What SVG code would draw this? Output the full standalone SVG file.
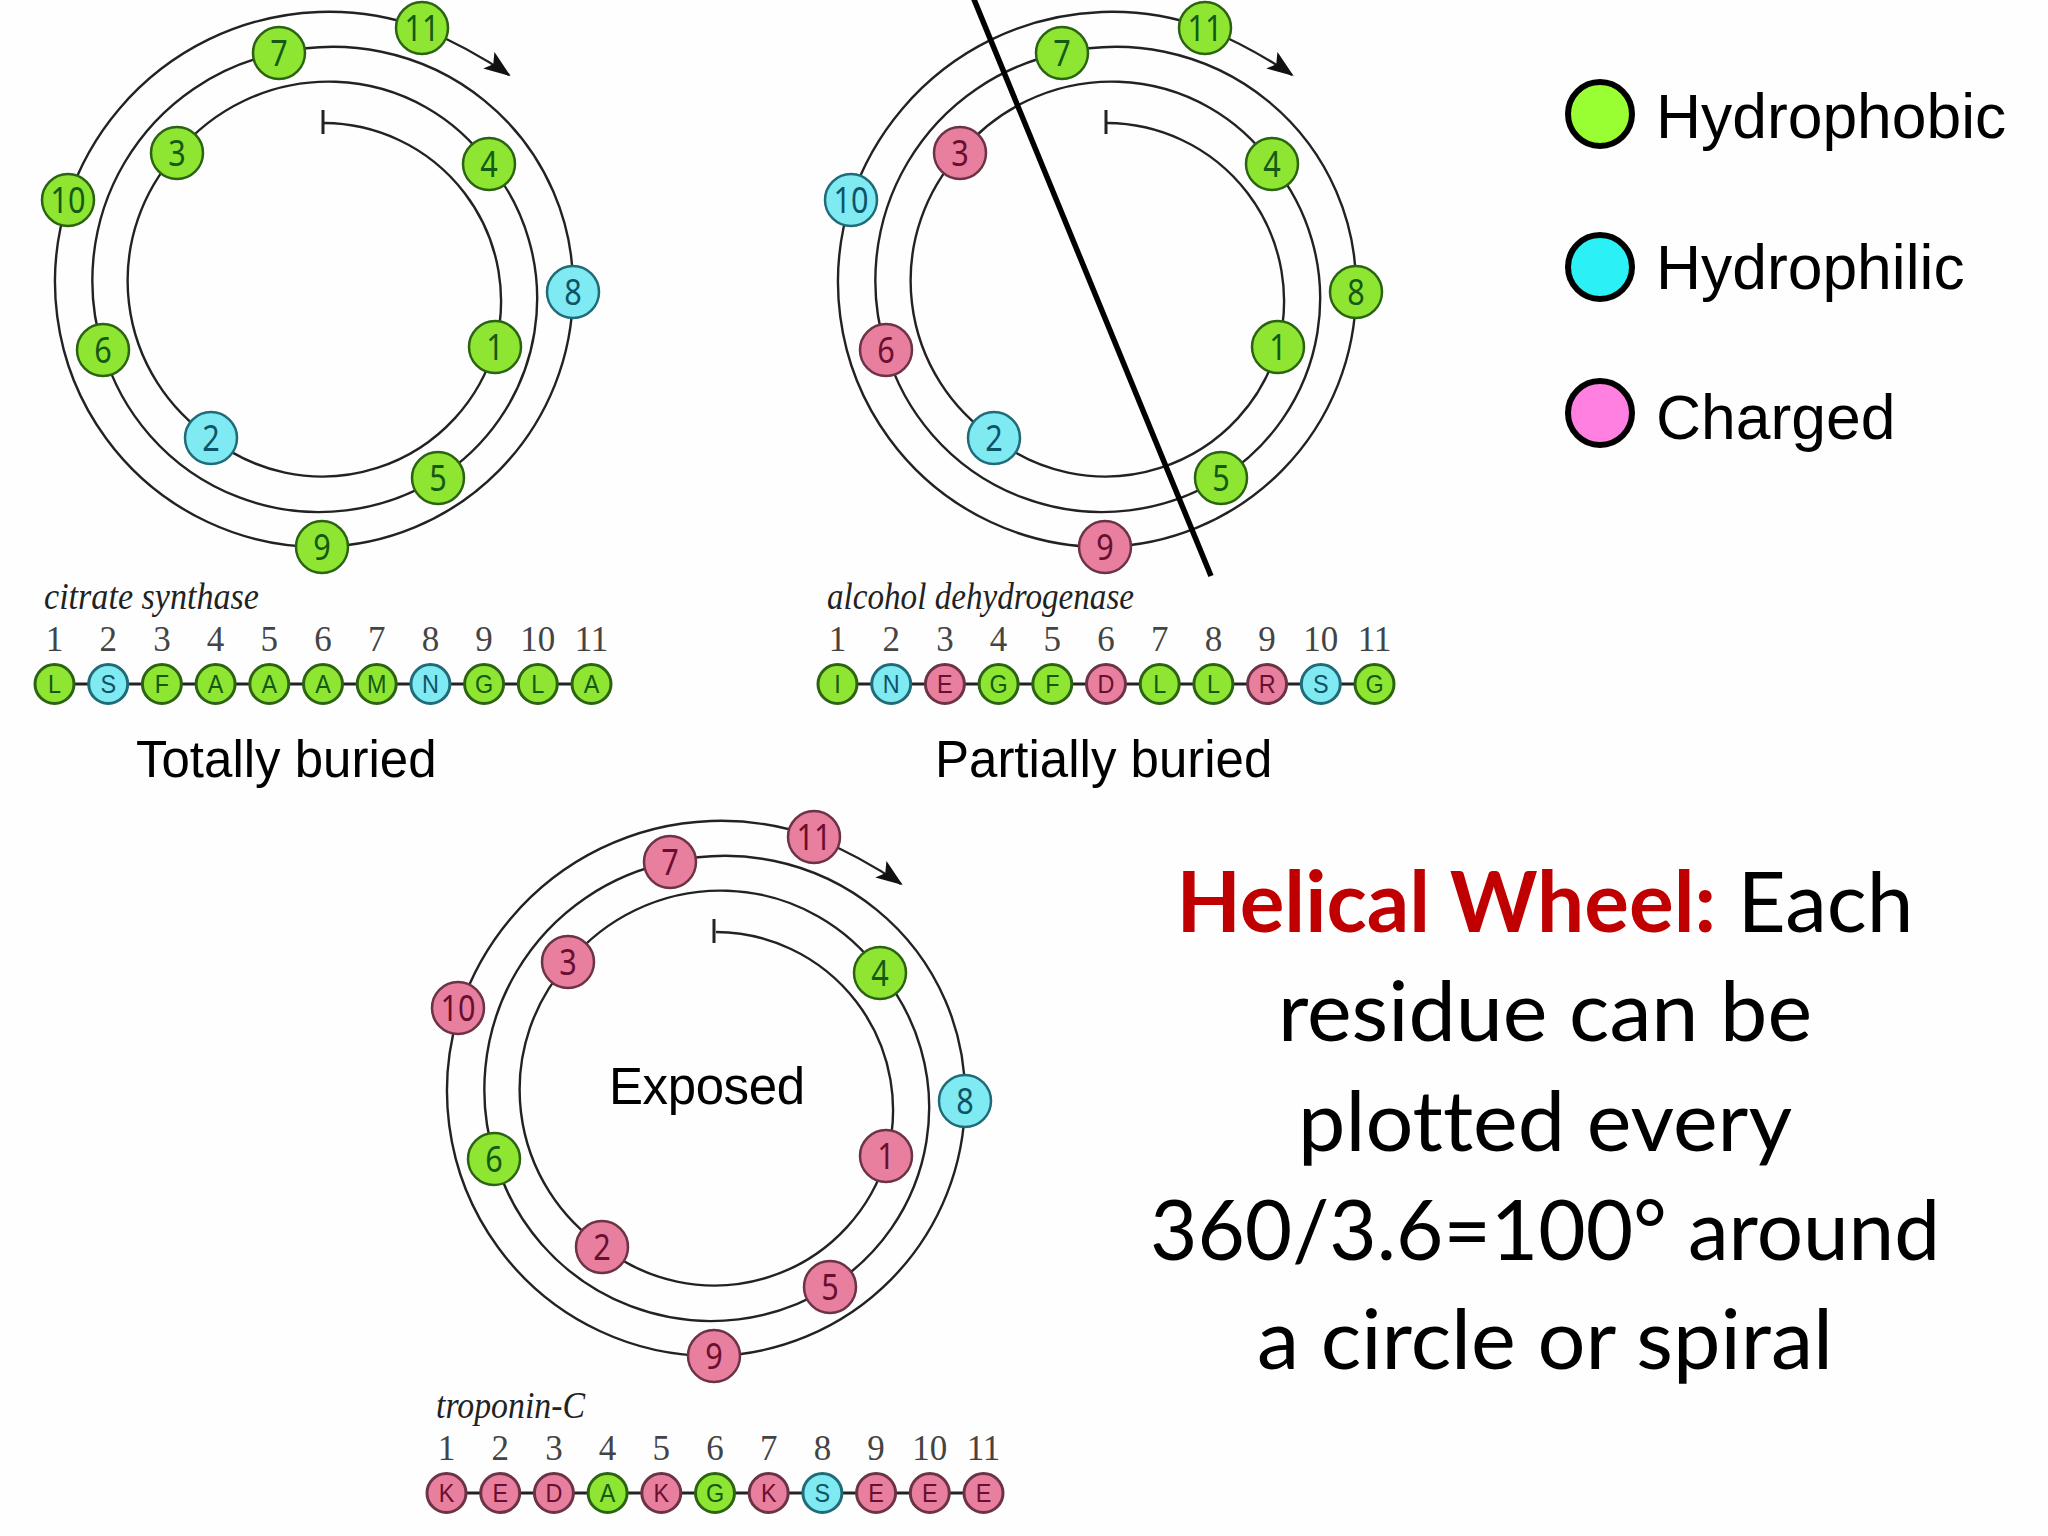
<svg xmlns="http://www.w3.org/2000/svg" width="2048" height="1536" viewBox="0 0 2048 1536">
<style>
text{font-family:"Liberation Sans",Arial,sans-serif;fill:#000}
.n circle{stroke-width:2.5}
.n text{text-anchor:middle;font-family:"Noto Sans","Liberation Sans",sans-serif;font-size:36px;transform:scaleX(.85)}
.s circle{stroke-width:3}
.s text{text-anchor:middle;font-size:26px;transform:scaleX(.9)}
.g circle{fill:#8fe632;stroke:#2b6312}.g text{fill:#145a14}
.c circle{fill:#80eaf2;stroke:#1f6b78}.c text{fill:#0d5468}
.p circle{fill:#e87f9e;stroke:#6b3345}.p text{fill:#6a0f30}
.num{text-anchor:middle;font-family:"Liberation Serif",serif;font-size:35px;fill:#444}
.name{font-family:"Liberation Serif",serif;font-style:italic;font-size:37px;fill:#222}
.big{font-size:51px}
.leg{font-size:62.4px}
.leg-c{stroke:#000;stroke-width:6}
.hw{font-family:Lato,"Open Sans",sans-serif;font-size:84px;text-anchor:middle;font-variant-ligatures:none}
.sp{fill:none;stroke:#222;stroke-width:2.4}
.bar{stroke:#222;stroke-width:3}
</style>
<defs>
<marker id="ah" markerWidth="30" markerHeight="24" refX="25" refY="11" orient="auto" markerUnits="userSpaceOnUse"><path d="M0,0 L27,11 L0,20 L6,11 Z" fill="#111"/></marker>
<path id="spiral" class="sp" marker-end="url(#ah)" d="M323,122 A178,178 0 0 1 494,346 A180,180 0 0 1 210,437 A190,190 0 0 1 176,152 A197,197 0 0 1 488,163 A212,212 0 0 1 437,477 A225,225 0 0 1 102,349 A232,232 0 0 1 278,52 A240,240 0 0 1 572,291 A257,257 0 0 1 321,546 A265,265 0 0 1 67,199 A275,275 0 0 1 421,27 A500,500 0 0 1 508,74"/>
<g id="row-connector"><line class="bar" x1="55.5" y1="684" x2="592.5" y2="684"/></g>
<g id="tick"><line class="bar" x1="323" y1="110" x2="323" y2="134"/></g>
</defs>
<rect width="2048" height="1536" fill="#fefefe"/>
<g id="connectors">
<use href="#spiral" x="1" y="1"/><use href="#tick" x="0" y="0"/><use href="#row-connector" x="-1"/>
<use href="#spiral" x="784" y="1"/><use href="#tick" x="783"/><use href="#row-connector" x="782"/>
<use href="#spiral" x="393" y="810"/><use href="#tick" x="391" y="809"/><use href="#row-connector" x="391" y="809"/>
</g>
<g id="wheel1" transform="translate(1,1)">
<g id="w1-1" class="n g" transform="translate(494,346)"><circle r="26"/><text y="13">1</text></g>
<g id="w1-2" class="n c" transform="translate(210,437)"><circle r="26"/><text y="13">2</text></g>
<g id="w1-3" class="n g" transform="translate(176,152)"><circle r="26"/><text y="13">3</text></g>
<g id="w1-4" class="n g" transform="translate(488,163)"><circle r="26"/><text y="13">4</text></g>
<g id="w1-5" class="n g" transform="translate(437,477)"><circle r="26"/><text y="13">5</text></g>
<g id="w1-6" class="n g" transform="translate(102,349)"><circle r="26"/><text y="13">6</text></g>
<g id="w1-7" class="n g" transform="translate(278,52)"><circle r="26"/><text y="13">7</text></g>
<g id="w1-8" class="n c" transform="translate(572,291)"><circle r="26"/><text y="13">8</text></g>
<g id="w1-9" class="n g" transform="translate(321,546)"><circle r="26"/><text y="13">9</text></g>
<g id="w1-10" class="n g" transform="translate(67,199)"><circle r="26"/><text y="13">10</text></g>
<g id="w1-11" class="n g" transform="translate(421,27)"><circle r="26"/><text y="13">11</text></g>
</g>
<g id="seq1" transform="translate(-1,0)">
<text class="name" x="45" y="609" textLength="215" lengthAdjust="spacingAndGlyphs">citrate synthase</text>
<text class="num" x="55.5" y="651">1</text><text class="num" x="109.2" y="651">2</text><text class="num" x="162.9" y="651">3</text><text class="num" x="216.6" y="651">4</text><text class="num" x="270.3" y="651">5</text><text class="num" x="324" y="651">6</text><text class="num" x="377.7" y="651">7</text><text class="num" x="431.4" y="651">8</text><text class="num" x="485.1" y="651">9</text><text class="num" x="538.8" y="651">10</text><text class="num" x="592.5" y="651">11</text>
<g id="s1-1" class="s g" transform="translate(55.5,684)"><circle r="19.5"/><text y="9">L</text></g>
<g id="s1-2" class="s c" transform="translate(109.2,684)"><circle r="19.5"/><text y="9">S</text></g>
<g id="s1-3" class="s g" transform="translate(162.9,684)"><circle r="19.5"/><text y="9">F</text></g>
<g id="s1-4" class="s g" transform="translate(216.6,684)"><circle r="19.5"/><text y="9">A</text></g>
<g id="s1-5" class="s g" transform="translate(270.3,684)"><circle r="19.5"/><text y="9">A</text></g>
<g id="s1-6" class="s g" transform="translate(324,684)"><circle r="19.5"/><text y="9">A</text></g>
<g id="s1-7" class="s g" transform="translate(377.7,684)"><circle r="19.5"/><text y="9">M</text></g>
<g id="s1-8" class="s c" transform="translate(431.4,684)"><circle r="19.5"/><text y="9">N</text></g>
<g id="s1-9" class="s g" transform="translate(485.1,684)"><circle r="19.5"/><text y="9">G</text></g>
<g id="s1-10" class="s g" transform="translate(538.8,684)"><circle r="19.5"/><text y="9">L</text></g>
<g id="s1-11" class="s g" transform="translate(592.5,684)"><circle r="19.5"/><text y="9">A</text></g>
<text class="big" x="137" y="777">Totally buried</text>
</g>
<g id="wheel2" transform="translate(784,1)">
<g id="w2-1" class="n g" transform="translate(494,346)"><circle r="26"/><text y="13">1</text></g>
<g id="w2-2" class="n c" transform="translate(210,437)"><circle r="26"/><text y="13">2</text></g>
<g id="w2-3" class="n p" transform="translate(176,152)"><circle r="26"/><text y="13">3</text></g>
<g id="w2-4" class="n g" transform="translate(488,163)"><circle r="26"/><text y="13">4</text></g>
<g id="w2-5" class="n g" transform="translate(437,477)"><circle r="26"/><text y="13">5</text></g>
<g id="w2-6" class="n p" transform="translate(102,349)"><circle r="26"/><text y="13">6</text></g>
<g id="w2-7" class="n g" transform="translate(278,52)"><circle r="26"/><text y="13">7</text></g>
<g id="w2-8" class="n g" transform="translate(572,291)"><circle r="26"/><text y="13">8</text></g>
<g id="w2-9" class="n p" transform="translate(321,546)"><circle r="26"/><text y="13">9</text></g>
<g id="w2-10" class="n c" transform="translate(67,199)"><circle r="26"/><text y="13">10</text></g>
<g id="w2-11" class="n g" transform="translate(421,27)"><circle r="26"/><text y="13">11</text></g>
</g>
<g id="seq2" transform="translate(782,0)">
<text class="name" x="45" y="609" textLength="307" lengthAdjust="spacingAndGlyphs">alcohol dehydrogenase</text>
<text class="num" x="55.5" y="651">1</text><text class="num" x="109.2" y="651">2</text><text class="num" x="162.9" y="651">3</text><text class="num" x="216.6" y="651">4</text><text class="num" x="270.3" y="651">5</text><text class="num" x="324" y="651">6</text><text class="num" x="377.7" y="651">7</text><text class="num" x="431.4" y="651">8</text><text class="num" x="485.1" y="651">9</text><text class="num" x="538.8" y="651">10</text><text class="num" x="592.5" y="651">11</text>
<g id="s2-1" class="s g" transform="translate(55.5,684)"><circle r="19.5"/><text y="9">I</text></g>
<g id="s2-2" class="s c" transform="translate(109.2,684)"><circle r="19.5"/><text y="9">N</text></g>
<g id="s2-3" class="s p" transform="translate(162.9,684)"><circle r="19.5"/><text y="9">E</text></g>
<g id="s2-4" class="s g" transform="translate(216.6,684)"><circle r="19.5"/><text y="9">G</text></g>
<g id="s2-5" class="s g" transform="translate(270.3,684)"><circle r="19.5"/><text y="9">F</text></g>
<g id="s2-6" class="s p" transform="translate(324,684)"><circle r="19.5"/><text y="9">D</text></g>
<g id="s2-7" class="s g" transform="translate(377.7,684)"><circle r="19.5"/><text y="9">L</text></g>
<g id="s2-8" class="s g" transform="translate(431.4,684)"><circle r="19.5"/><text y="9">L</text></g>
<g id="s2-9" class="s p" transform="translate(485.1,684)"><circle r="19.5"/><text y="9">R</text></g>
<g id="s2-10" class="s c" transform="translate(538.8,684)"><circle r="19.5"/><text y="9">S</text></g>
<g id="s2-11" class="s g" transform="translate(592.5,684)"><circle r="19.5"/><text y="9">G</text></g>
<text class="big" x="153" y="777">Partially buried</text>
</g>
<line id="boundary" x1="973" y1="-3" x2="1211" y2="576" stroke="#000" stroke-width="5.5"/>
<g id="wheel3" transform="translate(392,810)">
<g id="w3-1" class="n p" transform="translate(494,346)"><circle r="26"/><text y="13">1</text></g>
<g id="w3-2" class="n p" transform="translate(210,437)"><circle r="26"/><text y="13">2</text></g>
<g id="w3-3" class="n p" transform="translate(176,152)"><circle r="26"/><text y="13">3</text></g>
<g id="w3-4" class="n g" transform="translate(488,163)"><circle r="26"/><text y="13">4</text></g>
<g id="w3-5" class="n p" transform="translate(438,477)"><circle r="26"/><text y="13">5</text></g>
<g id="w3-6" class="n g" transform="translate(102,349)"><circle r="26"/><text y="13">6</text></g>
<g id="w3-7" class="n p" transform="translate(278,52)"><circle r="26"/><text y="13">7</text></g>
<g id="w3-8" class="n c" transform="translate(573,291)"><circle r="26"/><text y="13">8</text></g>
<g id="w3-9" class="n p" transform="translate(322,546)"><circle r="26"/><text y="13">9</text></g>
<g id="w3-10" class="n p" transform="translate(66,198)"><circle r="26"/><text y="13">10</text></g>
<g id="w3-11" class="n p" transform="translate(422,27)"><circle r="26"/><text y="13">11</text></g>
<text class="big" x="217" y="294" textLength="196">Exposed</text>
</g>
<g id="seq3" transform="translate(391,809)">
<text class="name" x="45" y="609" textLength="149" lengthAdjust="spacingAndGlyphs">troponin-C</text>
<text class="num" x="55.5" y="651">1</text><text class="num" x="109.2" y="651">2</text><text class="num" x="162.9" y="651">3</text><text class="num" x="216.6" y="651">4</text><text class="num" x="270.3" y="651">5</text><text class="num" x="324" y="651">6</text><text class="num" x="377.7" y="651">7</text><text class="num" x="431.4" y="651">8</text><text class="num" x="485.1" y="651">9</text><text class="num" x="538.8" y="651">10</text><text class="num" x="592.5" y="651">11</text>
<g id="s3-1" class="s p" transform="translate(55.5,684)"><circle r="19.5"/><text y="9">K</text></g>
<g id="s3-2" class="s p" transform="translate(109.2,684)"><circle r="19.5"/><text y="9">E</text></g>
<g id="s3-3" class="s p" transform="translate(162.9,684)"><circle r="19.5"/><text y="9">D</text></g>
<g id="s3-4" class="s g" transform="translate(216.6,684)"><circle r="19.5"/><text y="9">A</text></g>
<g id="s3-5" class="s p" transform="translate(270.3,684)"><circle r="19.5"/><text y="9">K</text></g>
<g id="s3-6" class="s g" transform="translate(324,684)"><circle r="19.5"/><text y="9">G</text></g>
<g id="s3-7" class="s p" transform="translate(377.7,684)"><circle r="19.5"/><text y="9">K</text></g>
<g id="s3-8" class="s c" transform="translate(431.4,684)"><circle r="19.5"/><text y="9">S</text></g>
<g id="s3-9" class="s p" transform="translate(485.1,684)"><circle r="19.5"/><text y="9">E</text></g>
<g id="s3-10" class="s p" transform="translate(538.8,684)"><circle r="19.5"/><text y="9">E</text></g>
<g id="s3-11" class="s p" transform="translate(592.5,684)"><circle r="19.5"/><text y="9">E</text></g>
</g>
<g id="legend">
<g id="leg-hydrophobic"><circle class="leg-c" cx="1600" cy="114" r="32" fill="#99ff33"/><text class="leg" x="1656" y="138">Hydrophobic</text></g>
<g id="leg-hydrophilic"><circle class="leg-c" cx="1600" cy="267" r="32" fill="#2bf0f5"/><text class="leg" x="1656" y="289">Hydrophilic</text></g>
<g id="leg-charged"><circle class="leg-c" cx="1600" cy="413" r="32" fill="#ff80e0"/><text class="leg" x="1656" y="439">Charged</text></g>
</g>
<g id="caption">
<text class="hw" x="1545" y="931.5" textLength="737" lengthAdjust="spacingAndGlyphs"><tspan fill="#c00000" font-weight="700">Helical Wheel:</tspan> Each</text>
<text class="hw" x="1545" y="1041" textLength="534" lengthAdjust="spacingAndGlyphs">residue can be</text>
<text class="hw" x="1545" y="1150.5" textLength="494" lengthAdjust="spacingAndGlyphs">plotted every</text>
<text class="hw" x="1545" y="1260" textLength="790" lengthAdjust="spacingAndGlyphs">360/3.6=100° around</text>
<text class="hw" x="1545" y="1369" textLength="576" lengthAdjust="spacingAndGlyphs">a circle or spiral</text>
</g>
</svg>
